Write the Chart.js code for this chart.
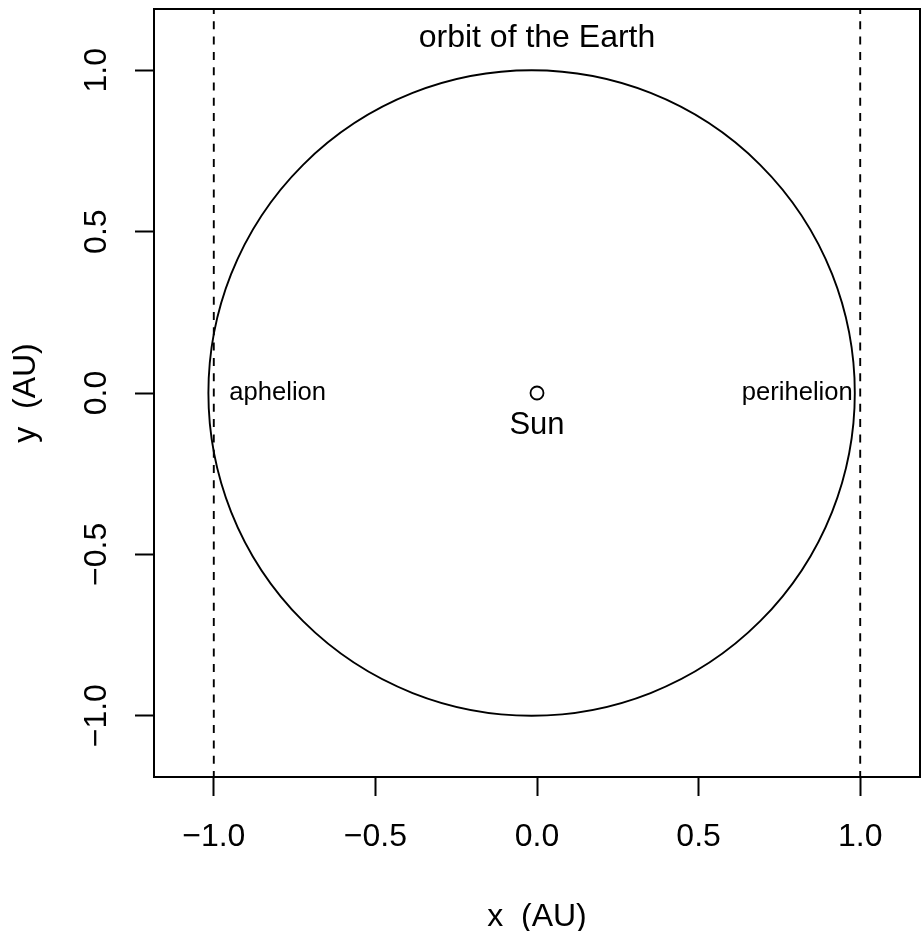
<!DOCTYPE html>
<html><head><meta charset="utf-8">
<script src="https://cdn.jsdelivr.net/npm/chart.js@4.4.1/dist/chart.umd.min.js"></script>
<style>html,body{margin:0;padding:0;background:#fff}#wrap{width:922px;height:931px}</style>
</head><body><div id="wrap"><canvas id="c" width="922" height="931"></canvas></div>
<script>
// ---- data ----
const xTicks = [-1, -0.5, 0, 0.5, 1];
const yTicks = [-1, -0.5, 0, 0.5, 1];
const xRange = [-1.185, 1.185];
const yRange = [-1.19, 1.19];
// orbit extremes: x of aphelion and perihelion, and y extent of the orbit
const apsisX = [-1.0167, 0.9833];
const orbitY = [-1.0, 1.0];
// dashed reference lines
const refLineX = [-1, 1];
// the Sun
const sunX = [0];
const sunY = [0];
// text annotations (anchor positions in AU)
const noteText = ['orbit of the Earth', 'Sun', 'aphelion', 'perihelion'];
const noteX = [0, 0, -0.952, 0.977];
const noteY = [1.1, -0.1, 0, 0];

// ---- styling ----
const FONT = "'Liberation Sans', Arial, Helvetica, sans-serif";
const fmt = v => (v < 0 ? '\u2212' : '') + Math.abs(v).toFixed(1);
const noteStyle = [
  {size: 32, align: 'center'},
  {size: 31, align: 'center'},
  {size: 25.6, align: 'left'},
  {size: 25.6, align: 'right'}
];

const orbitPlugin = {
  id: 'orbit',
  beforeDatasetsDraw(chart) {
    const {ctx, chartArea: a} = chart;
    const xs = chart.scales.x, ys = chart.scales.y;
    ctx.save();
    ctx.beginPath(); ctx.rect(a.left, a.top, a.right - a.left, a.bottom - a.top); ctx.clip();
    // orbit ellipse
    const cx = xs.getPixelForValue((apsisX[0] + apsisX[1]) / 2);
    const rx = Math.abs(xs.getPixelForValue(apsisX[1]) - xs.getPixelForValue(apsisX[0])) / 2;
    const cy = ys.getPixelForValue((orbitY[0] + orbitY[1]) / 2);
    const ry = Math.abs(ys.getPixelForValue(orbitY[1]) - ys.getPixelForValue(orbitY[0])) / 2;
    ctx.beginPath();
    ctx.ellipse(cx, cy, rx, ry, 0, 0, Math.PI * 2);
    ctx.strokeStyle = '#000'; ctx.lineWidth = 1.9; ctx.stroke();
    // dashed vertical lines
    ctx.setLineDash([8, 7.3]);
    ctx.lineWidth = 1.9;
    refLineX.forEach(v => {
      const px = xs.getPixelForValue(v);
      ctx.beginPath(); ctx.moveTo(px, a.bottom + 2); ctx.lineTo(px, a.top); ctx.stroke();
    });
    ctx.restore();
  },
  afterDraw(chart) {
    const {ctx, chartArea: a} = chart;
    const xs = chart.scales.x, ys = chart.scales.y;
    ctx.save();
    // box
    ctx.strokeStyle = '#000'; ctx.lineWidth = 2;
    ctx.strokeRect(a.left, a.top, a.right - a.left, a.bottom - a.top);
    // y tick labels (rotated, as in the reference)
    ctx.fillStyle = '#000';
    ctx.font = '32px ' + FONT;
    yTicks.forEach(v => {
      const py = ys.getPixelForValue(v);
      ctx.save();
      ctx.translate(a.left - 57.3, py);
      ctx.rotate(-Math.PI / 2);
      ctx.textAlign = 'center'; ctx.textBaseline = 'middle';
      ctx.fillText(fmt(v), 0, 0);
      ctx.restore();
    });
    // annotations
    noteText.forEach((t, i) => {
      ctx.font = noteStyle[i].size + 'px ' + FONT;
      ctx.textAlign = noteStyle[i].align; ctx.textBaseline = 'middle';
      ctx.fillText(t, xs.getPixelForValue(noteX[i]), ys.getPixelForValue(noteY[i]));
    });
    ctx.restore();
  }
};

new Chart(document.getElementById('c'), {
  type: 'scatter',
  data: {
    datasets: [{
      label: 'Sun',
      data: sunX.map((x, i) => ({x, y: sunY[i]})),
      pointRadius: 6.5, pointHoverRadius: 6.5,
      pointBackgroundColor: '#fff', pointBorderColor: '#000', pointBorderWidth: 1.8,
      showLine: false
    }]
  },
  options: {
    responsive: false, animation: false, devicePixelRatio: 1, events: [],
    layout: {autoPadding: false, padding: {top: 9, right: 2, left: 0, bottom: 0}},
    plugins: {legend: {display: false}, tooltip: {enabled: false}},
    scales: {
      x: {
        type: 'linear', min: xRange[0], max: xRange[1],
        afterBuildTicks: s => { s.ticks = xTicks.map(v => ({value: v})); },
        afterFit: s => { s.height = 154; s.paddingLeft = 0; s.paddingRight = 0; },
        grid: {drawOnChartArea: false, drawTicks: true, tickLength: 19, tickWidth: 2, tickColor: '#000'},
        border: {display: false},
        ticks: {font: {family: FONT, size: 32, lineHeight: 1}, color: '#000', padding: 25,
                callback: v => fmt(v), maxRotation: 0, minRotation: 0, autoSkip: false},
        title: {display: true, text: 'x  (AU)', color: '#000',
                font: {family: FONT, size: 32, lineHeight: 1}, padding: {top: 0, bottom: -2}}
      },
      y: {
        type: 'linear', min: yRange[0], max: yRange[1],
        afterBuildTicks: s => { s.ticks = yTicks.map(v => ({value: v})); },
        afterFit: s => { s.width = 154; s.paddingTop = 0; s.paddingBottom = 0; },
        grid: {drawOnChartArea: false, drawTicks: true, tickLength: 19, tickWidth: 2, tickColor: '#000'},
        border: {display: false},
        ticks: {display: false},
        title: {display: true, text: 'y  (AU)', color: '#000',
                font: {family: FONT, size: 32, lineHeight: 1}, padding: {top: 10, bottom: 0}}
      }
    }
  },
  plugins: [orbitPlugin]
});
</script></body></html>
